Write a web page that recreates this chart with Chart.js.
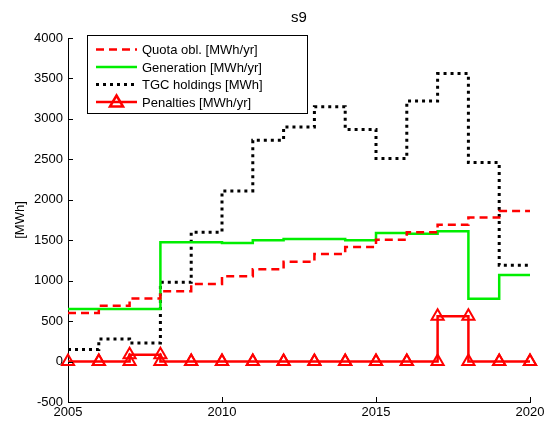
<!DOCTYPE html>
<html>
<head>
<meta charset="utf-8">
<script src="https://cdn.jsdelivr.net/npm/chart.js@4"></script>
<style>
  html, body { margin: 0; padding: 0; background: #fff; }
  #wrap { width: 552px; height: 421px; }
</style>
</head>
<body>
<div id="wrap"><canvas id="c" width="552" height="421"></canvas></div>
<script>
const years = [2005, 2006, 2007, 2008, 2009, 2010, 2011, 2012, 2013, 2014, 2015, 2016, 2017, 2018, 2019, 2020];
const quota = [600, 690, 780, 870, 960, 1055, 1140, 1235, 1330, 1415, 1505, 1600, 1690, 1780, 1860, 1860];
const generation = [650, 650, 650, 1475, 1475, 1465, 1500, 1515, 1515, 1500, 1590, 1580, 1610, 775, 1070, 1070];
const tgc = [150, 280, 230, 980, 1600, 2110, 2735, 2900, 3150, 2870, 2510, 3220, 3560, 2460, 1190, 1190];
const penalties = [0, 0, 85, 0, 0, 0, 0, 0, 0, 0, 0, 0, 560, 0, 0, 0];
const yTicks = [-500, 0, 500, 1000, 1500, 2000, 2500, 3000, 3500, 4000];
const xTicks = [2005, 2010, 2015, 2020];
const seriesNames = ['Quota obl. [MWh/yr]', 'Generation [MWh/yr]', 'TGC holdings [MWh]', 'Penalties [MWh/yr]'];

const FONT = '"Liberation Sans", Arial, Helvetica, sans-serif';

// matlab-style stairs: each value held until the next year
function stairs(xs, ys) {
  const pts = [];
  for (let i = 0; i < xs.length; i++) {
    pts.push({ x: xs[i], y: ys[i] });
    if (i < xs.length - 1) pts.push({ x: xs[i + 1], y: ys[i] });
  }
  return pts;
}

const decor = {
  id: 'decor',
  afterDraw(chart) {
    const ctx = chart.ctx;
    const a = chart.chartArea;
    const xs = chart.scales.x, ys = chart.scales.y;
    ctx.save();
    // inward ticks
    ctx.strokeStyle = '#000';
    ctx.lineWidth = 1;
    ctx.beginPath();
    yTicks.forEach(v => {
      const p = Math.round(ys.getPixelForValue(v)) + 0.5;
      ctx.moveTo(a.left, p); ctx.lineTo(a.left + 5, p);
    });
    xTicks.forEach(v => {
      const p = Math.round(xs.getPixelForValue(v)) + 0.5;
      ctx.moveTo(p, a.bottom); ctx.lineTo(p, a.bottom - 5);
    });
    ctx.stroke();

    // title
    ctx.fillStyle = '#000';
    ctx.font = '15px ' + FONT;
    ctx.textAlign = 'center';
    ctx.textBaseline = 'middle';
    ctx.fillText('s9', (a.left + a.right) / 2, 18);

    // legend box
    const bx = 87, by = 35, bw = 220, bh = 78;
    ctx.fillStyle = '#fff';
    ctx.fillRect(bx, by, bw, bh);
    ctx.strokeStyle = '#000';
    ctx.strokeRect(bx + 0.5, by + 0.5, bw, bh);
    const rows = [49.5, 67, 84.5, 102];
    const styles = [
      { c: '#ff0000', w: 2.5, d: [8, 5] },
      { c: '#00ee00', w: 2.5, d: [] },
      { c: '#000', w: 3, d: [3, 4] },
      { c: '#ff0000', w: 2.5, d: [], m: true }
    ];
    ctx.font = '13px ' + FONT;
    ctx.textAlign = 'left';
    rows.forEach((ry, i) => {
      const s = styles[i];
      ctx.beginPath();
      ctx.strokeStyle = s.c;
      ctx.lineWidth = s.w;
      ctx.setLineDash(s.d);
      ctx.moveTo(96, ry); ctx.lineTo(137, ry);
      ctx.stroke();
      ctx.setLineDash([]);
      if (s.m) {
        ctx.beginPath();
        ctx.moveTo(116.5, ry - 6.5);
        ctx.lineTo(123, ry + 4.5);
        ctx.lineTo(110, ry + 4.5);
        ctx.closePath();
        ctx.stroke();
      }
      ctx.fillStyle = '#000';
      ctx.fillText(seriesNames[i], 142, ry + 1);
    });
    ctx.restore();
  }
};

new Chart(document.getElementById('c').getContext('2d'), {
  type: 'line',
  data: {
    datasets: [
      {
        label: seriesNames[0],
        data: stairs(years, quota),
        borderColor: '#ff0000',
        borderWidth: 2.5,
        borderDash: [8, 5],
        pointRadius: 0,
        tension: 0
      },
      {
        label: seriesNames[1],
        data: stairs(years, generation),
        borderColor: '#00ee00',
        borderWidth: 2.5,
        pointRadius: 0,
        tension: 0
      },
      {
        label: seriesNames[2],
        data: stairs(years, tgc),
        borderColor: '#000000',
        borderWidth: 3,
        borderDash: [3, 4],
        pointRadius: 0,
        tension: 0
      },
      {
        label: seriesNames[3],
        data: stairs(years, penalties),
        borderColor: '#ff0000',
        borderWidth: 2.5,
        pointStyle: 'triangle',
        pointRadius: 7,
        pointBorderWidth: 2,
        pointBorderColor: '#ff0000',
        pointBackgroundColor: 'rgba(255,255,255,0)',
        tension: 0,
        clip: false
      }
    ]
  },
  options: {
    responsive: false,
    animation: false,
    events: [],
    layout: { padding: { left: 0, right: 22, top: 38, bottom: 0 } },
    plugins: {
      legend: { display: false },
      title: { display: false },
      tooltip: { enabled: false }
    },
    scales: {
      x: {
        type: 'linear',
        min: 2005,
        max: 2020,
        afterFit: s => { s.height = 19; },
        afterBuildTicks: s => { s.ticks = xTicks.map(v => ({ value: v })); },
        grid: { display: false, drawTicks: false, tickLength: 0 },
        border: { display: true, color: '#000', width: 1 },
        ticks: {
          color: '#000',
          padding: 3,
          maxRotation: 0,
          font: { family: FONT, size: 13 },
          callback: v => String(v)
        }
      },
      y: {
        min: -500,
        max: 4000,
        afterFit: s => { s.width = 68; },
        afterBuildTicks: s => { s.ticks = yTicks.map(v => ({ value: v })); },
        grid: { display: false, drawTicks: false, tickLength: 0 },
        border: { display: true, color: '#000', width: 1 },
        title: {
          display: true,
          text: '[MWh]',
          color: '#000',
          font: { family: FONT, size: 13 },
          padding: { top: 13, bottom: 0 }
        },
        ticks: {
          color: '#000',
          padding: 5,
          font: { family: FONT, size: 13 },
          callback: v => String(v)
        }
      }
    }
  },
  plugins: [decor]
});
</script>
</body>
</html>
